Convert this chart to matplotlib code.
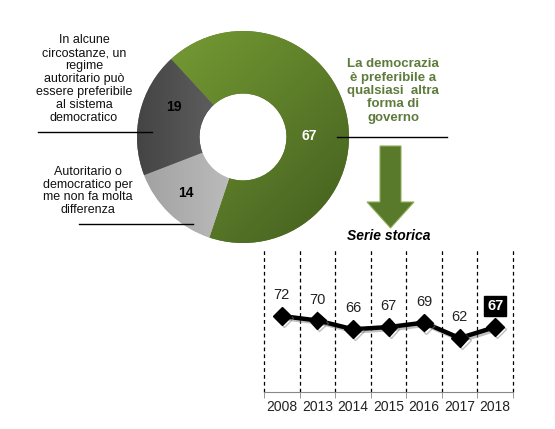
import numpy as np
import matplotlib
matplotlib.use("Agg")
import matplotlib.pyplot as plt
from matplotlib.patches import Polygon
import matplotlib.patheffects as pe

# ---- data ----
donut_labels = ["La democrazia\nè preferibile a\nqualsiasi  altra\nforma di\ngoverno",
                "Autoritario o\ndemocratico per\nme non fa molta\ndifferenza",
                "In alcune\ncircostanze, un\nregime\nautoritario può\nessere preferibile\nal sistema\ndemocratico"]
donut_values = [67, 14, 19]
years = ["2008", "2013", "2014", "2015", "2016", "2017", "2018"]
series = [72, 70, 66, 67, 69, 62, 67]

W, H = 555, 429
plt.rcParams['font.family'] = ['Liberation Sans', 'DejaVu Sans']
fig = plt.figure(figsize=(W / 100, H / 100), dpi=100)
fig.patch.set_facecolor('white')

# full-figure pixel axes (y measured from bottom)
ax = fig.add_axes([0, 0, 1, 1])

def Y(y):
    return H - y

cx, cy, R = 243, Y(137), 106
wedges, _ = ax.pie(donut_values, startangle=132.7, counterclock=False,
                   center=(cx, cy), radius=R, frame=True,
                   wedgeprops=dict(width=R * 0.59, linewidth=0),
                   colors=['#5e7f2b', '#c8c8c8', '#5a5a5a'])

# gradients clipped to wedges
def grad_fill(wedge, c1, c2, direction):
    n = 256
    t = np.linspace(0, 1, n)
    xx, yy = np.meshgrid(t, t)
    if direction == 'diag':
        g = (xx + (1 - yy)) / 2
    else:
        g = xx
    c1 = np.array(matplotlib.colors.to_rgb(c1))
    c2 = np.array(matplotlib.colors.to_rgb(c2))
    img = c1[None, None, :] * (1 - g[..., None]) + c2[None, None, :] * g[..., None]
    im = ax.imshow(img, extent=(cx - R, cx + R, cy - R, cy + R), origin='lower',
                   zorder=wedge.get_zorder() + 0.1, aspect='auto', interpolation='bilinear')
    im.set_clip_path(wedge)

grad_fill(wedges[0], '#79a035', '#435e1f', 'diag')
grad_fill(wedges[1], '#a0a0a0', '#dedede', 'h')
grad_fill(wedges[2], '#444444', '#8a8a8a', 'h')
ax.set_xlim(0, W)
ax.set_ylim(0, H)
ax.set_aspect('auto')
ax.axis('off')

# numbers on donut
ax.text(309, Y(136), "67", color='white', fontsize=10, fontweight='bold', ha='center', va='center', zorder=5)
ax.text(174, Y(107), "19", color='black', fontsize=10, fontweight='bold', ha='center', va='center', zorder=5)
ax.text(186, Y(193), "14", color='black', fontsize=10, fontweight='bold', ha='center', va='center', zorder=5)

# category labels
ax.text(84, Y(79), donut_labels[2], fontsize=9, ha='center', va='center', linespacing=1.1, color='#111111')
ax.plot([38, 152], [Y(132), Y(132)], color='black', lw=1)
ax.text(88, Y(191), donut_labels[1], fontsize=9, ha='center', va='center', linespacing=1.1, color='#111111')
ax.plot([79, 193], [Y(224), Y(224)], color='black', lw=1)
ax.text(393, Y(91), donut_labels[0], fontsize=9.5, fontweight='bold', ha='center', va='center',
        linespacing=1.15, color='#5e7b3c')
ax.plot([337, 447], [Y(137), Y(137)], color='black', lw=1)

# arrow
arrow = Polygon([(380, Y(146)), (401, Y(146)), (401, Y(202)), (414, Y(202)), (390.5, Y(228)),
                 (367, Y(202)), (380, Y(202))], closed=True, facecolor='#587a2a',
                edgecolor='#8fae5a', lw=0.8, zorder=3)
ax.add_patch(arrow)

ax.text(389, Y(236), "Serie storica", fontsize=10, fontweight='bold', fontstyle='italic',
        ha='center', va='center')

# ---- line chart ----
lx0, lx1, ly0, ly1 = 264, 513, 392, 250
ax2 = fig.add_axes([lx0 / W, (H - ly0) / H, (lx1 - lx0) / W, (ly0 - ly1) / H])
ax2.set_facecolor('none')
xs = np.arange(len(years))
ax2.set_xlim(-0.5, len(years) - 0.5)
ax2.set_ylim(37.5, 102)
for b in np.arange(-0.5, len(years), 1.0):
    ax2.axvline(b, color='black', lw=0.9, ls=(0, (3, 2.5)), clip_on=False)
line, = ax2.plot(xs, series, color='black', lw=3.2, marker='D', ms=9, zorder=4,
                 solid_joinstyle='round')
line.set_path_effects([pe.SimpleLineShadow(offset=(1.5, -1.5), shadow_color='gray', alpha=0.5),
                       pe.Normal()])
for i, v in enumerate(series):
    if i == len(series) - 1:
        ax2.annotate(str(v), (i, v), xytext=(0, 15), textcoords='offset points', ha='center',
                     va='center', fontsize=10.5, fontweight='bold', color='white',
                     bbox=dict(boxstyle='square,pad=0.2', fc='black', ec='black'))
    else:
        ax2.annotate(str(v), (i, v), xytext=(0, 15), textcoords='offset points', ha='center',
                     va='center', fontsize=10.5, color='#222222')
for s in ['top', 'right', 'left']:
    ax2.spines[s].set_visible(False)
ax2.spines['bottom'].set_color('#888888')
ax2.set_yticks([])
ax2.set_xticks(xs)
ax2.set_xticklabels(years, fontsize=10, color='#222222')
ax2.tick_params(axis='x', which='major', length=0, pad=6)
ax2.set_xticks(np.arange(-0.5, len(years), 1.0), minor=True)
ax2.tick_params(axis='x', which='minor', length=4, color='#888888')

fig.savefig("out.png", dpi=100, facecolor='white')
